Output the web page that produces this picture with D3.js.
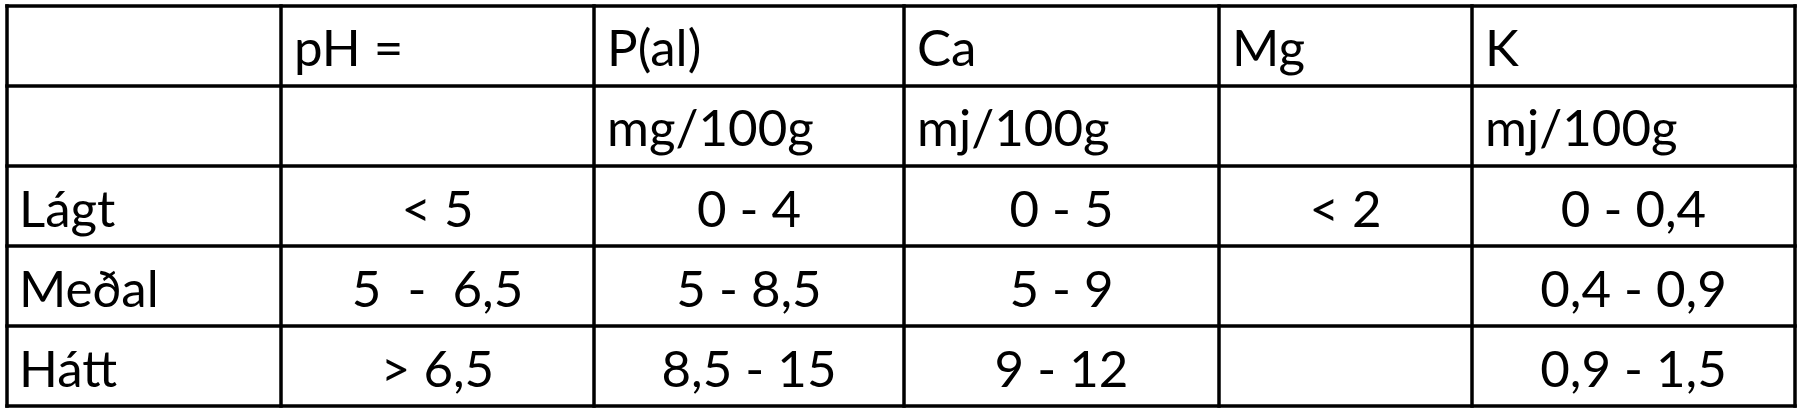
<!DOCTYPE html>
<html>
<head>
<meta charset="utf-8">
<script src="https://cdn.jsdelivr.net/npm/d3@7"></script>
<style>
  body { margin: 0; background: #fff; }
  text { font-family: Lato, "Open Sans", sans-serif; fill: #000; }
</style>
</head>
<body>
<svg id="chart" width="1799" height="411"></svg>
<script>
// table content
var headers = ["", "pH =", "P(al)", "Ca", "Mg", "K"];
var units = ["", "", "mg/100g", "mj/100g", "", "mj/100g"];
var levels = ["Lágt", "Meðal", "Hátt"];
var ph = ["< 5", "5  -  6,5", "> 6,5"];
var pal = ["0 - 4", "5 - 8,5", "8,5 - 15"];
var ca = ["0 - 5", "5 - 9", "9 - 12"];
var mg = ["< 2", "", ""];
var k = ["0 - 0,4", "0,4 - 0,9", "0,9 - 1,5"];

// layout
var colEdges = [7, 281, 594, 904, 1219, 1472, 1795];
var rowTop = 6, rowH = 80, nRows = 5;
var fontSize = 51;

var svg = d3.select("#chart");
var y = d3.scaleLinear().domain([0, nRows]).range([rowTop, rowTop + rowH * nRows]);

var rows = [headers, units].concat(levels.map(function(l, i){
  return [l, ph[i], pal[i], ca[i], mg[i], k[i]];
}));

rows.forEach(function(row, r){
  row.forEach(function(txt, c){
    if (!txt) return;
    var left = (r < 2 || c === 0);
    svg.append("text")
      .attr("x", left ? colEdges[c] + (c === 0 ? 12 : 13) : (colEdges[c] + colEdges[c + 1]) / 2)
      .attr("y", y(r) + (r < 2 ? 60 : 61))
      .attr("text-anchor", left ? "start" : "middle")
      .attr("font-size", fontSize)
      .attr("xml:space", "preserve")
      .style("white-space", "pre")
      .text(txt);
  });
});

// grid lines
d3.range(nRows + 1).forEach(function(r){
  svg.append("line")
    .attr("x1", colEdges[0]).attr("x2", colEdges[colEdges.length - 1])
    .attr("y1", y(r)).attr("y2", y(r))
    .attr("stroke", "#000").attr("stroke-width", 3.5).attr("stroke-linecap", "square");
});
colEdges.forEach(function(x){
  svg.append("line")
    .attr("x1", x).attr("x2", x)
    .attr("y1", y(0)).attr("y2", y(nRows))
    .attr("stroke", "#000").attr("stroke-width", 3.5).attr("stroke-linecap", "square");
});
</script>
</body>
</html>
